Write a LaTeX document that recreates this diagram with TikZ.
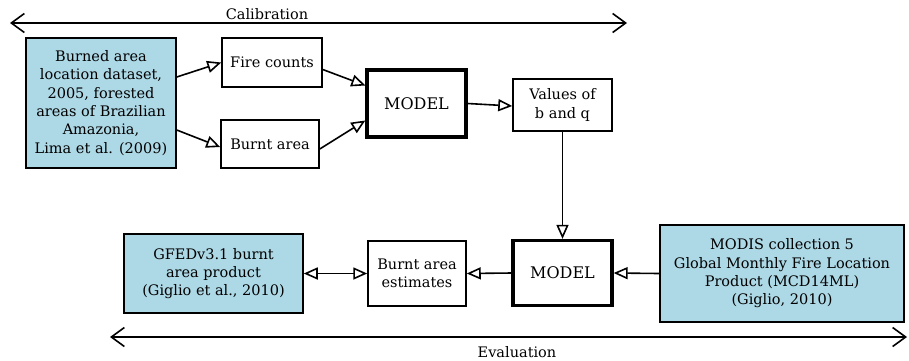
\documentclass[tikz,border=0pt]{standalone}
\usepackage{fontspec}
\setmainfont{DejaVu Serif}
\usetikzlibrary{arrows.meta}
\definecolor{boxblue}{HTML}{ADD8E6}
\tikzset{
  >={Triangle[open, length=14pt, width=12pt]},
  box/.style={draw, line width=1.5pt, align=center, inner sep=2pt,
    font=\fontsize{14.5}{18.3}\selectfont},
  databox/.style={box, fill=boxblue},
  modelbox/.style={box, line width=3.3pt, font=\fontsize{16}{18.3}\selectfont},
  flow/.style={line width=1.6pt, ->},
  span/.style={line width=1.6pt, {Straight Barb[length=13pt, width=19pt]}-{Straight Barb[length=13pt, width=19pt]}},
}
\begin{document}
\begin{tikzpicture}[x=1pt, y=-1pt]
    \useasboundingbox (0,0) rectangle (909,360);
    % calibration part
    \coordinate (calL) at (10,23);
    \coordinate (calR) at (627,23);
    \draw[span] (calL) -- (calR);
    \node[font=\fontsize{14.5}{17}\selectfont] (caltxt) at (267,14) {Calibration};
    \node[databox, minimum width=150pt, minimum height=130pt] (burned) at (101,103)
      {Burned area\\location dataset,\\2005, forested\\areas of Brazilian\\Amazonia,\\Lima et al. (2009)};
    \node[box, minimum width=100pt, minimum height=49pt] (fire) at (272,62.5) {Fire counts};
    \node[box, minimum width=98pt, minimum height=48pt] (burnt) at (270,144) {Burnt area};
    \node[modelbox, minimum width=99pt, minimum height=67pt] (model1) at (416.5,103.5) {MODEL};
    \node[box, minimum width=99pt, minimum height=52pt] (values) at (562.5,105) {Values of\\b and q};
    \draw[flow] ([yshift=26pt]burned.east) -- (fire.west);
    \draw[flow] ([yshift=-27pt]burned.east) -- ([yshift=-3pt]burnt.west);
    \draw[flow] ([yshift=-7pt]fire.east) -- ([yshift=18pt]model1.west);
    \draw[flow] ([yshift=-5pt]burnt.east) -- ([yshift=-17pt]model1.west);
    \draw[flow] (model1.east) -- ([yshift=-1pt]values.west);
    % evaluation part
    \node[modelbox, minimum width=99pt, minimum height=65pt] (model2) at (562.5,273) {MODEL};
    \node[box, minimum width=98pt, minimum height=65pt] (estim) at (417,273.5) {Burnt area\\estimates};
    \node[databox, minimum width=179pt, minimum height=79pt] (gfed) at (213.5,273.5)
      {GFEDv3.1 burnt\\area product\\(Giglio et al., 2010)};
    \node[databox, minimum width=244pt, minimum height=97pt] (modis) at (782,273.5)
      {MODIS collection 5\\Global Monthly Fire Location\\Product (MCD14ML)\\(Giglio, 2010)};
    \draw[flow] (values.south) -- (model2.north);
    \draw[flow] (modis.west) -- (model2.east);
    \draw[flow] (model2.west) -- (estim.east);
    \draw[line width=1.6pt, <->] (gfed.east) -- (estim.west);
    \coordinate (evaL) at (110,337);
    \coordinate (evaR) at (907,337);
    \draw[span] (evaL) -- (evaR);
    \node[font=\fontsize{14.5}{17}\selectfont] (evatxt) at (517,352) {Evaluation};
\end{tikzpicture}
\end{document}
